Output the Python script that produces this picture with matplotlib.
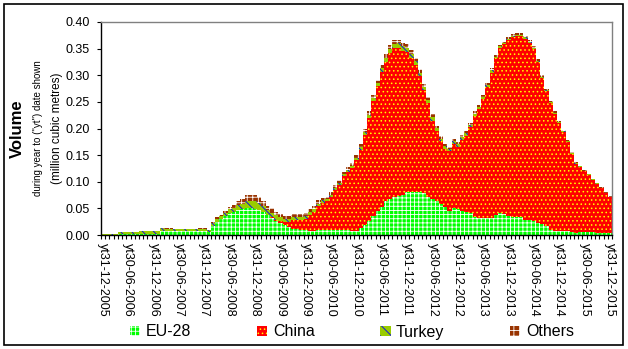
import matplotlib
matplotlib.use("Agg")
import matplotlib.pyplot as plt
from matplotlib.patches import Rectangle
import numpy as np

plt.rcParams['font.family'] = ['Liberation Sans', 'DejaVu Sans']
plt.rcParams['hatch.linewidth'] = 0.6

# monthly periods, Dec 2005 .. Dec 2015 (121 months)
tick_labels = ["yt31-12-2005", "yt30-06-2006", "yt31-12-2006", "yt30-06-2007", "yt31-12-2007",
               "yt30-06-2008", "yt31-12-2008", "yt30-06-2009", "yt31-12-2009", "yt30-06-2010",
               "yt31-12-2010", "yt30-06-2011", "yt31-12-2011", "yt30-06-2012", "yt31-12-2012",
               "yt30-06-2013", "yt31-12-2013", "yt30-06-2014", "yt31-12-2014", "yt30-06-2015",
               "yt31-12-2015"]

eu28 = [0.0005, 0.0005, 0.0005, 0.0005, 0.0015, 0.0015, 0.0015, 0.0015, 0.0015, 0.0015, 0.0015, 0.0015,
        0.0015, 0.0015, 0.0075, 0.0075, 0.0075, 0.0075, 0.0075, 0.0075, 0.0075, 0.0075, 0.0075, 0.0075,
        0.0075, 0.005, 0.0175, 0.025, 0.030, 0.036, 0.041, 0.044, 0.047, 0.049, 0.050, 0.050,
        0.049, 0.047, 0.043, 0.038, 0.031, 0.026, 0.022, 0.018, 0.015, 0.012, 0.011, 0.010,
        0.009, 0.008, 0.008, 0.009, 0.009, 0.009, 0.009, 0.009, 0.009, 0.009, 0.009, 0.0075,
        0.0075, 0.0125, 0.019, 0.027, 0.036, 0.046, 0.053, 0.063, 0.067, 0.072, 0.074, 0.075,
        0.081, 0.080, 0.080, 0.081, 0.078, 0.072, 0.067, 0.063, 0.058, 0.053, 0.046, 0.050,
        0.048, 0.046, 0.044, 0.041, 0.034, 0.031, 0.031, 0.031, 0.031, 0.038, 0.042, 0.039,
        0.036, 0.034, 0.034, 0.033, 0.029, 0.028, 0.027, 0.023, 0.021, 0.016, 0.009, 0.008,
        0.008, 0.008, 0.0075, 0.0063, 0.0044, 0.0063, 0.0063, 0.005, 0.005, 0.003, 0.003, 0.003,
        0.003]

china = [0, 0, 0, 0, 0, 0, 0, 0, 0, 0, 0, 0,
         0, 0, 0, 0, 0, 0, 0, 0, 0, 0, 0, 0,
         0, 0, 0, 0, 0, 0, 0, 0, 0, 0, 0, 0,
         0, 0, 0, 0, 0.002, 0.003, 0.004, 0.006, 0.010, 0.016, 0.017, 0.018,
         0.021, 0.030, 0.036, 0.045, 0.052, 0.054, 0.063, 0.076, 0.085, 0.101, 0.110, 0.1185,
         0.1335, 0.1465, 0.169, 0.193, 0.215, 0.234, 0.254, 0.262, 0.275, 0.279, 0.278, 0.271,
         0.262, 0.252, 0.240, 0.218, 0.194, 0.176, 0.148, 0.133, 0.118, 0.109, 0.111, 0.121,
         0.118, 0.133, 0.142, 0.161, 0.190, 0.205, 0.224, 0.246, 0.274, 0.295, 0.310, 0.319,
         0.331, 0.338, 0.340, 0.341, 0.340, 0.333, 0.323, 0.302, 0.274, 0.254, 0.239, 0.220,
         0.202, 0.185, 0.1665, 0.1457, 0.1296, 0.1217, 0.1137, 0.108, 0.099, 0.093, 0.085, 0.075,
         0.068]

turkey = [0.0015, 0.0015, 0.0015, 0.0015, 0.004, 0.004, 0.004, 0.004, 0.004, 0.006, 0.006, 0.006,
          0.006, 0.006, 0.005, 0.0045, 0.0045, 0.0035, 0.003, 0.003, 0.003, 0.003, 0.003, 0.004,
          0.004, 0.004, 0.005, 0.005, 0.005, 0.006, 0.007, 0.007, 0.009, 0.010, 0.013, 0.014,
          0.015, 0.014, 0.011, 0.009, 0.009, 0.008, 0.007, 0.006, 0.005, 0.005, 0.005, 0.005,
          0.005, 0.005, 0.005, 0.005, 0.004, 0.004, 0.004, 0.004, 0.004, 0.004, 0.004, 0.004,
          0.004, 0.006, 0.006, 0.006, 0.006, 0.006, 0.006, 0.008, 0.008, 0.008, 0.008, 0.008,
          0.008, 0.008, 0.006, 0.006, 0.006, 0.006, 0.006, 0.005, 0.005, 0.005, 0.005, 0.005,
          0.005, 0.005, 0.005, 0.004, 0.004, 0.004, 0.004, 0.004, 0.004, 0.002, 0.002, 0.002,
          0.002, 0.002, 0.002, 0.002, 0.002, 0.002, 0.002, 0.002, 0.002, 0.002, 0.002, 0.002,
          0.002, 0.002, 0.002, 0.002, 0.002, 0.001, 0.001, 0.001, 0.001, 0.001, 0.001, 0.001,
          0.001]

others = [0, 0, 0, 0, 0, 0, 0, 0, 0, 0, 0, 0,
          0, 0, 0.0005, 0.0005, 0.0005, 0.0005, 0.0005, 0.0005, 0.0005, 0.0005, 0.0005, 0.0015,
          0.0015, 0.001, 0.0015, 0.003, 0.003, 0.004, 0.005, 0.005, 0.008, 0.009, 0.012, 0.012,
          0.012, 0.011, 0.009, 0.008, 0.008, 0.007, 0.006, 0.006, 0.006, 0.006, 0.006, 0.006,
          0.006, 0.006, 0.006, 0.006, 0.005, 0.005, 0.005, 0.005, 0.005, 0.005, 0.005, 0.005,
          0.005, 0.006, 0.006, 0.006, 0.006, 0.006, 0.006, 0.007, 0.007, 0.007, 0.007, 0.007,
          0.007, 0.007, 0.006, 0.006, 0.006, 0.006, 0.006, 0.004, 0.004, 0.004, 0.004, 0.004,
          0.004, 0.004, 0.004, 0.004, 0.004, 0.004, 0.004, 0.004, 0.004, 0.003, 0.003, 0.003,
          0.003, 0.003, 0.003, 0.003, 0.003, 0.003, 0.003, 0.003, 0.003, 0.002, 0.002, 0.002,
          0.002, 0.002, 0.002, 0.002, 0.002, 0.001, 0.001, 0.001, 0.001, 0.001, 0.001, 0.001,
          0.001]

series = [("EU-28", eu28, "#00FF00", "white", "++++"),
          ("China", china, "#FF0000", "#FFFF00", "...."),
          ("Turkey", turkey, "#99CC00", "#0000FF", "\\\\\\"),
          ("Others", others, "#993300", "white", "+++")]

W, H = 628, 349
fig = plt.figure(figsize=(W / 100, H / 100), dpi=100)
ax = fig.add_axes([101 / W, 1 - 235 / H, (612 - 101) / W, (235 - 22) / H])

x = np.arange(len(eu28))
bottom = np.zeros(len(eu28))
handles = []
for name, vals, fc, hc, hatch in series:
    vals = np.array(vals, dtype=float)
    bars = ax.bar(x, vals, bottom=bottom, width=1.0, color=fc, edgecolor=hc,
                  hatch=hatch, linewidth=0, antialiased=False, label=name)
    handles.append(bars)
    bottom = bottom + vals

ax.set_xlim(-0.5, len(eu28) - 0.5)
ax.set_ylim(0, 0.40)
ax.set_yticks(np.arange(0, 0.401, 0.05))
ax.set_yticklabels([f"{v:.2f}" for v in np.arange(0, 0.401, 0.05)], fontsize=9)
ax.tick_params(axis='y', direction='out', length=3, width=0.8, pad=5, colors='black')

ax.set_xticks(np.arange(0, len(eu28), 6))
ax.set_xticklabels(tick_labels, rotation=-90, fontsize=9, ha='center', va='top')
ax.set_xticks(np.arange(-0.5, len(eu28), 1), minor=True)
ax.tick_params(axis='x', which='major', length=0, pad=6)
ax.tick_params(axis='x', which='minor', direction='out', length=3, width=0.8)

for s in ['top', 'right']:
    ax.spines[s].set_color('#808080')
    ax.spines[s].set_linewidth(1.0)
for s in ['left', 'bottom']:
    ax.spines[s].set_color('black')
    ax.spines[s].set_linewidth(1.0)

fig.text(17.5 / W, 1 - 129 / H, "Volume", rotation=90, fontsize=12, fontweight='bold',
         ha='center', va='center')
fig.text(38.5 / W, 1 - 128 / H, 'during year to ("yt") date shown', rotation=90, fontsize=7,
         ha='center', va='center')
fig.text(57.5 / W, 1 - 128 / H, "(million cubic metres)", rotation=90, fontsize=8.5,
         ha='center', va='center')

leg = fig.legend(handles=handles, labels=[s[0] for s in series], loc='center',
                 bbox_to_anchor=(352 / W, 1 - 332 / H), ncol=4, frameon=False,
                 fontsize=11.5, handlelength=0.65, handleheight=0.65, handletextpad=0.35,
                 columnspacing=4.1, borderpad=0)

fig.add_artist(Rectangle((4 / W, 1 - 345 / H), 619 / W, 341 / H, transform=fig.transFigure,
                         fill=False, edgecolor='black', linewidth=1.2))

fig.savefig("out.png", dpi=100)
